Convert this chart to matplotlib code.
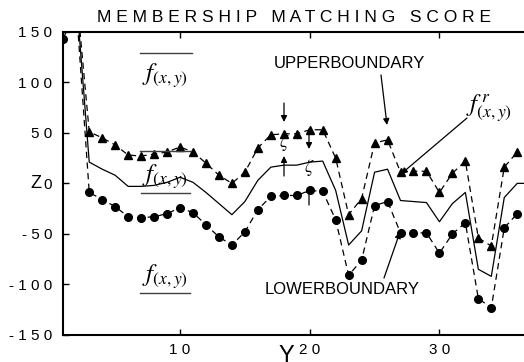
import matplotlib
matplotlib.use("Agg")
import matplotlib.pyplot as plt
from matplotlib.lines import Line2D

plt.rcParams['font.family'] = ['Liberation Sans', 'DejaVu Sans']
plt.rcParams['mathtext.fontset'] = 'stix'

# ---- data ----
x_upper = list(range(2, 37))
upper = [190, 51, 45, 38, 28, 27, 29, 31, 36, 31, 20, 8, 0, 11, 35, 48, 49, 49,
         53, 53, 25, -31, -15, 40, 43, 11, 12, 12, -9, 10, 22, -54, -62, 16, 31]
x_lower = list(range(1, 37))
lower = [143, 175, -9, -16, -23, -33, -34, -33, -30, -24, -29, -41, -53, -61, -48,
         -26, -13, -12, -12, -7, -8, -36, -91, -76, -22, -18, -49, -49, -49, -69,
         -50, -39, -114, -123, -44, -30]
x_ref = list(range(2, 38))
ref = [185, 21, 14, 8, -3, -3, -2, 1, 6, 1, -9, -20, -31, -18, 3, 16, 18, 18, 21,
       22, -7, -61, -47, 11, 14, -17, -18, -19, -38, -20, -9, -85, -92, -14, 0, 0]

yticks = [-150, -100, -50, 0, 50, 100, 150]
ytick_labels = ['- 1 5 0', '- 1 0 0', '- 5 0', '0', '5 0', '1 0 0', '1 5 0']
xticks = [10, 20, 30]
xtick_labels = ['1 0', '2 0', '3 0']
title = 'M E M B E R S H I P   M A T C H I N G   S C O R E'

W, H = 524, 362
fig = plt.figure(figsize=(W / 100, H / 100), dpi=100)
L, R, T, B = 63.3, 524, 31.7, 335
ax = fig.add_axes([L / W, 1 - B / H, (R - L) / W, (B - T) / H])

ax.plot(x_upper, upper, color='k', lw=0.9, ls=(0, (5, 3.5)), marker='^', ms=5.8)
ax.plot(x_lower, lower, color='k', lw=0.9, ls=(0, (5, 3.5)), marker='o', ms=5.5)
ax.plot(x_ref, ref, color='k', lw=0.9, ls='-')

ax.set_xlim(1, 1 + (R - L) / 12.97)
ax.set_ylim(-150, 150)
ax.set_yticks(yticks)
ax.set_yticklabels(ytick_labels)
ax.set_xticks(xticks)
ax.set_xticklabels(xtick_labels)
ax.tick_params(direction='in', length=4, width=1, top=True, right=False,
               labelsize=11, pad=6)
ax.tick_params(axis='y', pad=8)
for s in ['left', 'bottom', 'top']:
    ax.spines[s].set_linewidth(1.5)
ax.spines['right'].set_visible(False)


def fx(px):
    return px / W


def fy(py):
    return 1 - py / H


def hline(x0, x1, py, lw=1.0, color='0.25'):
    fig.add_artist(Line2D([fx(x0), fx(x1)], [fy(py), fy(py)], color=color, lw=lw))


def arrow(p0, p1):
    ax.annotate('', xy=(fx(p1[0]), fy(p1[1])), xycoords='figure fraction',
                xytext=(fx(p0[0]), fy(p0[1])), textcoords='figure fraction',
                arrowprops=dict(arrowstyle='-|>', color='k', lw=0.9,
                                mutation_scale=9, shrinkA=0, shrinkB=0))


fig.text(fx(294), fy(18), title, ha='center', va='center', fontsize=12.5)
fig.text(fx(36), fy(183), 'Z', ha='center', va='center', fontsize=13)
fig.text(fx(286), 0.0, 'Y', ha='center', va='baseline', fontsize=17)

# f labels
fig.text(fx(165), fy(76), r'$f_{(x,y)}$', ha='center', va='center', fontsize=18)
hline(140, 192, 53)
fig.text(fx(165), fy(177), r'$f_{(x,y)}$', ha='center', va='center', fontsize=18)
hline(140, 190, 151.5)
hline(141, 190, 193)
fig.text(fx(165), fy(277), r'$f_{(x,y)}$', ha='center', va='center', fontsize=18)
hline(140, 190, 292.7)
fig.text(fx(489), fy(109), r'$f^{\,r}_{(x,y)}$', ha='center', va='center', fontsize=18)

fig.text(fx(349), fy(63), 'UPPERBOUNDARY', ha='center', va='center', fontsize=12)
fig.text(fx(342), fy(289), 'LOWERBOUNDARY', ha='center', va='center', fontsize=12)

arrow((381, 75), (387, 125))
arrow((467, 118), (401, 174))
arrow((384, 278), (400, 232))
arrow((284, 103), (284, 122))
arrow((284, 176), (284, 156))
arrow((309, 129), (309, 149))
arrow((309, 205), (309, 186))

fig.text(fx(284), fy(143), r'$\zeta$', ha='center', va='center', fontsize=13)
fig.text(fx(309), fy(168), r'$\zeta$', ha='center', va='center', fontsize=13)

fig.savefig('out.png', dpi=100)
